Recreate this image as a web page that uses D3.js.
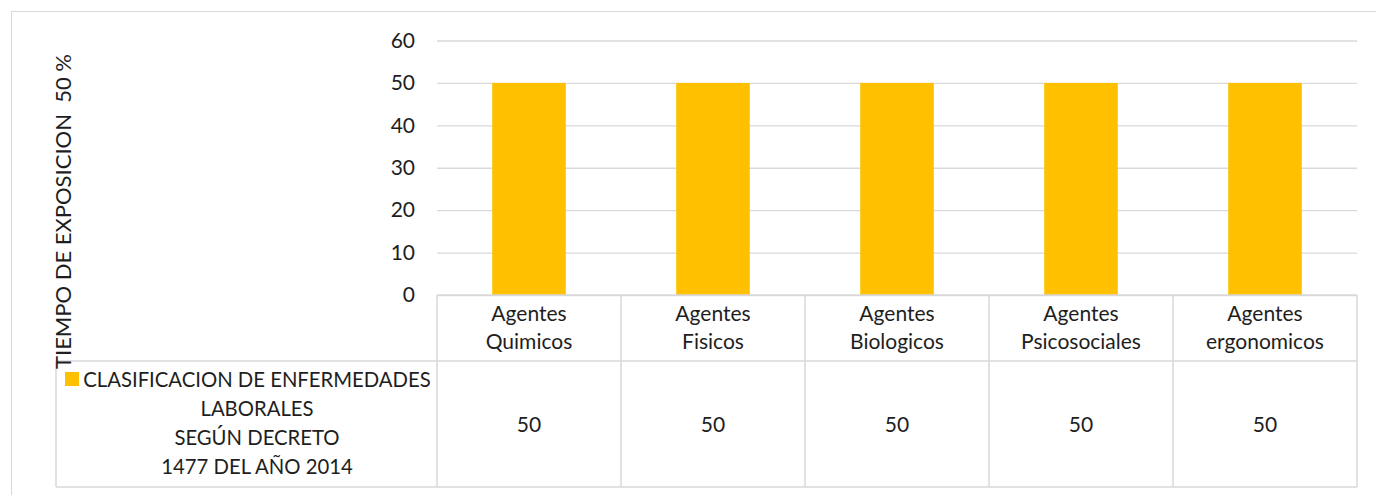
<!DOCTYPE html>
<html>
<head>
<meta charset="utf-8">
<script src="https://cdn.jsdelivr.net/npm/d3@7"></script>
<style>
  body { margin: 0; background: #fff; }
  svg { font-family: Lato, "Open Sans", sans-serif; }
</style>
</head>
<body>
<svg></svg>
<script>
const categories = [
  ["Agentes", "Quimicos"],
  ["Agentes", "Fisicos"],
  ["Agentes", "Biologicos"],
  ["Agentes", "Psicosociales"],
  ["Agentes", "ergonomicos"]
];
const values = [50, 50, 50, 50, 50];
const yTicks = [0, 10, 20, 30, 40, 50, 60];
const seriesName = ["CLASIFICACION DE ENFERMEDADES", "LABORALES", "SEGÚN DECRETO", "1477 DEL AÑO 2014"];
const yTitle = "TIEMPO DE EXPOSICION  50 %";

function draw() {
  const svgWidth = 1376, svgHeight = 495;
  const svg = d3.select("svg")
    .attr("width", svgWidth)
    .attr("height", svgHeight);

  const grid = "#d9d9d9", ink = "#1e1e1e", barColor = "#ffc000";
  const plot = { left: 437, right: 1357, top: 40.5, bottom: 295 };
  const table = { left: 56, row1: 361, bottom: 487 };
  const fs = 21;

  // chart border
  svg.append("rect")
    .attr("x", 11.5).attr("y", 11.5)
    .attr("width", svgWidth + 10).attr("height", svgHeight + 10)
    .attr("fill", "none").attr("stroke", grid);

  const xScale = d3.scaleBand()
    .domain(d3.range(categories.length))
    .range([plot.left, plot.right])
    .paddingInner(0).paddingOuter(0);
  const yScale = d3.scaleLinear()
    .domain([0, 60])
    .range([plot.bottom, plot.top]);

  const yAxis = d3.axisLeft(yScale)
    .tickValues(yTicks)
    .tickSize(-(plot.right - plot.left))
    .tickPadding(22);
  const yAxisG = svg.append("g")
    .attr("transform", `translate(${plot.left},0)`)
    .call(yAxis);
  yAxisG.select(".domain").remove();
  yAxisG.selectAll(".tick line").attr("stroke", grid).attr("stroke-width", 1.3);
  yAxisG.selectAll(".tick text")
    .attr("fill", ink)
    .attr("font-size", fs)
    .attr("font-family", "Lato, sans-serif");

  // bars
  const barW = xScale.bandwidth() * 0.4;
  svg.selectAll("rect.bar").data(values)
    .enter().append("rect")
      .attr("class", "bar")
      .attr("x", (d, i) => xScale(i) + (xScale.bandwidth() - barW) / 2)
      .attr("y", d => yScale(d))
      .attr("width", barW)
      .attr("height", d => yScale(0) - yScale(d))
      .attr("fill", barColor);

  // data table lines
  const lines = svg.append("g").attr("stroke", grid).attr("stroke-width", 1.5);
  lines.append("line").attr("x1", plot.left).attr("x2", plot.right).attr("y1", plot.bottom).attr("y2", plot.bottom);
  lines.append("line").attr("x1", table.left).attr("x2", plot.right).attr("y1", table.row1).attr("y2", table.row1);
  lines.append("line").attr("x1", table.left).attr("x2", plot.right).attr("y1", table.bottom).attr("y2", table.bottom);
  lines.append("line").attr("x1", table.left).attr("x2", table.left).attr("y1", table.row1).attr("y2", table.bottom);
  lines.selectAll("line.v").data(d3.range(categories.length + 1))
    .enter().append("line")
      .attr("class", "v")
      .attr("x1", i => i < categories.length ? xScale(i) : plot.right)
      .attr("x2", i => i < categories.length ? xScale(i) : plot.right)
      .attr("y1", plot.bottom).attr("y2", table.bottom);

  // category labels
  const catG = svg.append("g")
    .attr("fill", ink).attr("font-size", fs).attr("text-anchor", "middle");
  categories.forEach((c, i) => {
    c.forEach((t, j) => {
      catG.append("text")
        .attr("x", xScale(i) + xScale.bandwidth() / 2)
        .attr("y", 321 + j * 28)
        .text(t);
    });
  });

  // values row
  svg.append("g").selectAll("text").data(values)
    .enter().append("text")
      .attr("x", (d, i) => xScale(i) + xScale.bandwidth() / 2)
      .attr("y", 431.5)
      .attr("text-anchor", "middle")
      .attr("fill", ink)
      .attr("font-size", fs)
      .text(d => d);

  // legend key + series name
  const legCx = 257;
  svg.append("rect")
    .attr("x", 65).attr("y", 372)
    .attr("width", 14).attr("height", 14)
    .attr("fill", barColor);
  svg.append("g").selectAll("text").data(seriesName)
    .enter().append("text")
      .attr("x", legCx)
      .attr("y", (d, i) => 386.5 + i * 29.2)
      .attr("text-anchor", "middle")
      .attr("fill", ink)
      .attr("font-size", 20.3)
      .text(d => d);

  // y axis title
  svg.append("text")
    .attr("transform", `translate(71,211.5) rotate(-90)`)
    .attr("text-anchor", "middle")
    .attr("fill", ink)
    .attr("font-size", 22)
    .style("white-space", "pre")
    .text(yTitle);
}

draw();
</script>
</body>
</html>
